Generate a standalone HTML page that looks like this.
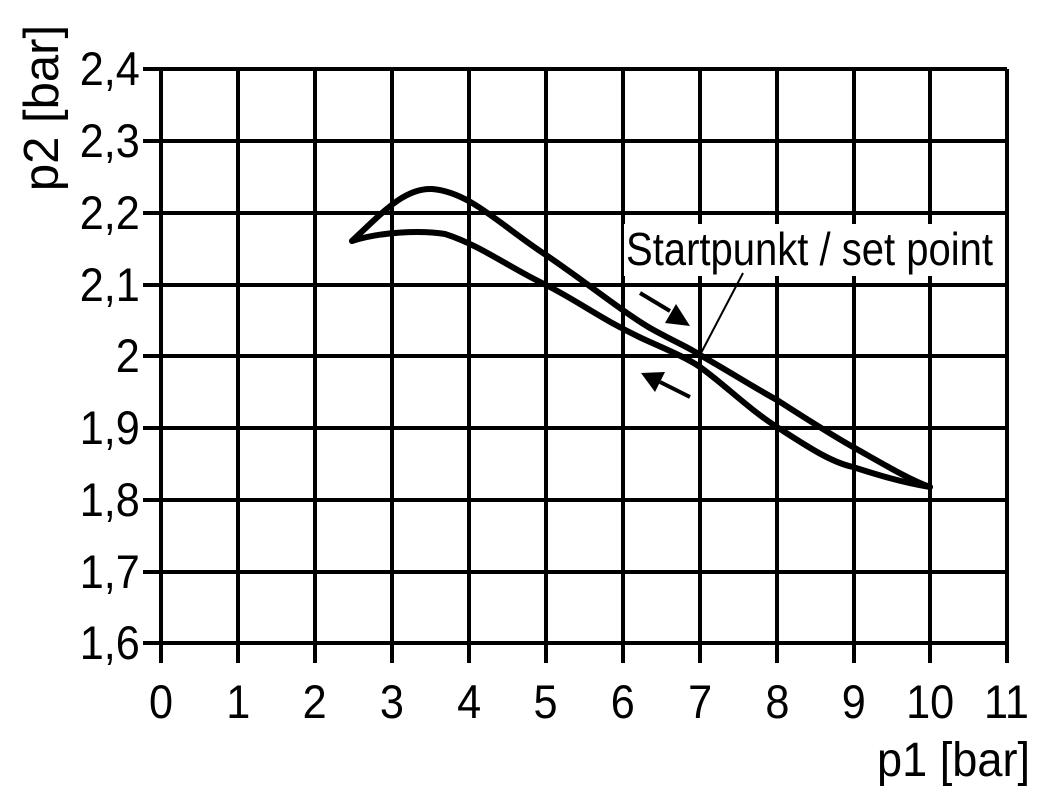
<!DOCTYPE html>
<html><head><style>body{margin:0;background:#fff}svg{display:block}</style></head><body>
<svg width="1051" height="803" viewBox="0 0 1051 803" xmlns="http://www.w3.org/2000/svg" font-family="Liberation Sans, sans-serif">
<g stroke="#000" stroke-width="4" fill="none">
<path d="M143 69H1007M143 141H1007M143 213H1007M143 285H1007M143 356H1007M143 428H1007M143 500H1007M143 572H1007M143 643H1007"/>
<path d="M161 69V663M238 69V663M315 69V663M392 69V663M469 69V663M546 69V663M623 69V663M700 69V663M777 69V663M854 69V663M930 69V663M1007 69V663"/>
</g>
<rect x="624" y="224" width="372" height="52" fill="#fff"/>
<g font-size="47" text-anchor="end">
<g transform="scale(0.92,1)">
<text x="152" y="85">2,4</text><text x="152" y="157">2,3</text><text x="152" y="229">2,2</text>
<text x="152" y="301">2,1</text><text x="152" y="372">2</text><text x="152" y="444">1,9</text>
<text x="152" y="516">1,8</text><text x="152" y="588">1,7</text><text x="152" y="659">1,6</text>
</g></g>
<g font-size="47" text-anchor="middle" transform="scale(0.92,1)">
<text x="175" y="718">0</text><text x="259" y="718">1</text><text x="342" y="718">2</text><text x="426" y="718">3</text>
<text x="510" y="718">4</text><text x="593" y="718">5</text><text x="677" y="718">6</text><text x="761" y="718">7</text>
<text x="845" y="718">8</text><text x="928" y="718">9</text><text x="1011" y="718">10</text><text x="1094" y="718">11</text>
</g>
<text transform="translate(1030,776) scale(0.94,1)" font-size="48" text-anchor="end">p1 [bar]</text>
<text transform="translate(58,108) rotate(-90)" font-size="49" text-anchor="middle">p2 [bar]</text>
<text transform="translate(626,265) scale(0.87,1)" font-size="46">Startpunkt / set point</text>
<g stroke="#000" stroke-width="6" fill="none" stroke-linecap="round" stroke-linejoin="round">
<path d="M352 241C385 210 405 188 432 189C470 192 500 225 546 255C590 285 620 310 650 328C675 342 690 348 700 355C730 372 755 388 777 400C805 418 830 434 853 447C885 465 910 480 930 487"/>
<path d="M352 241C380 232 420 230 445 234C480 245 510 268 546 285C580 302 605 322 650 342C675 353 690 360 700 367C725 385 750 410 777 427C805 445 830 462 853 467C875 474 900 482 930 487"/>
</g>
<line x1="743" y1="273" x2="700" y2="355" stroke="#000" stroke-width="2"/>
<line x1="640" y1="293" x2="670" y2="311" stroke="#000" stroke-width="4"/>
<polygon points="690,326 665,323 676,304" fill="#000"/>
<line x1="690" y1="397" x2="660" y2="382" stroke="#000" stroke-width="4"/>
<polygon points="641,373 665,372 655,392" fill="#000"/>
</svg>
</body></html>
